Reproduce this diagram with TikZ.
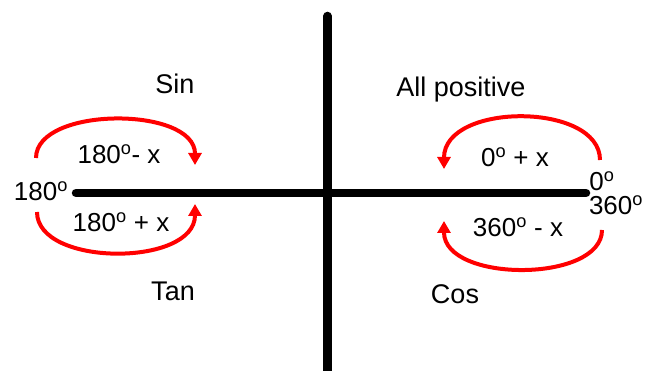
\documentclass[tikz,border=0pt]{standalone}
\usepackage{fontspec}
\setmainfont{Liberation Sans}
\usetikzlibrary{arrows.meta}
\begin{document}
\begin{tikzpicture}[x=1pt,y=-1pt,
  axis/.style={line width=8.5pt,line cap=round,black},
  turn/.style={red,line width=4pt,-{Triangle[length=12pt,width=13pt]}},
  quad/.style={font=\fontsize{27}{29}\selectfont,inner sep=0pt},
  num/.style={font=\fontsize{26}{28}\selectfont,inner sep=0pt}]
\useasboundingbox (0,0) rectangle (645,371);
% axes
\coordinate (vt) at (327.5,16);
\coordinate (vb) at (327.5,380);
\coordinate (hl) at (76,193);
\coordinate (hr) at (586,193);
\draw[axis] (vt) -- (vb);
\draw[axis] (hl) -- (hr);
% arcs
\coordinate (a1) at (36,158);
\coordinate (b1) at (195,165);
\draw[turn] (a1) .. controls (36,106) and (195,106) .. (b1);
\coordinate (a2) at (37,212);
\coordinate (b2) at (195,204);
\draw[turn] (a2) .. controls (37,267) and (195,267) .. (b2);
\coordinate (a3) at (600,160);
\coordinate (b3) at (444,169);
\draw[turn] (a3) .. controls (600,102) and (444,102) .. (b3);
\coordinate (a4) at (602,230);
\coordinate (b4) at (444,221);
\draw[turn] (a4) .. controls (602,283) and (444,283) .. (b4);
% labels
\node[quad] (sin) at (175,84) {Sin};
\node[quad] (all) at (461,90) {All positive};
\node[quad] (tan) at (173,291) {Tan};
\node[quad] (cos) at (455,294) {Cos};
\node[num] (l1) at (119,154) {180\textsuperscript{o}- x};
\node[num] (l2) at (121,222) {180\textsuperscript{o} + x};
\node[num] (l0) at (41,191) {180\textsuperscript{o}};
\node[num] (r1) at (515,157) {0\textsuperscript{o} + x};
\node[num] (r2) at (518,227) {360\textsuperscript{o} - x};
\node[num] (r0) at (602,181) {0\textsuperscript{o}};
\node[num] (r00) at (616,205) {360\textsuperscript{o}};
\end{tikzpicture}
\end{document}
